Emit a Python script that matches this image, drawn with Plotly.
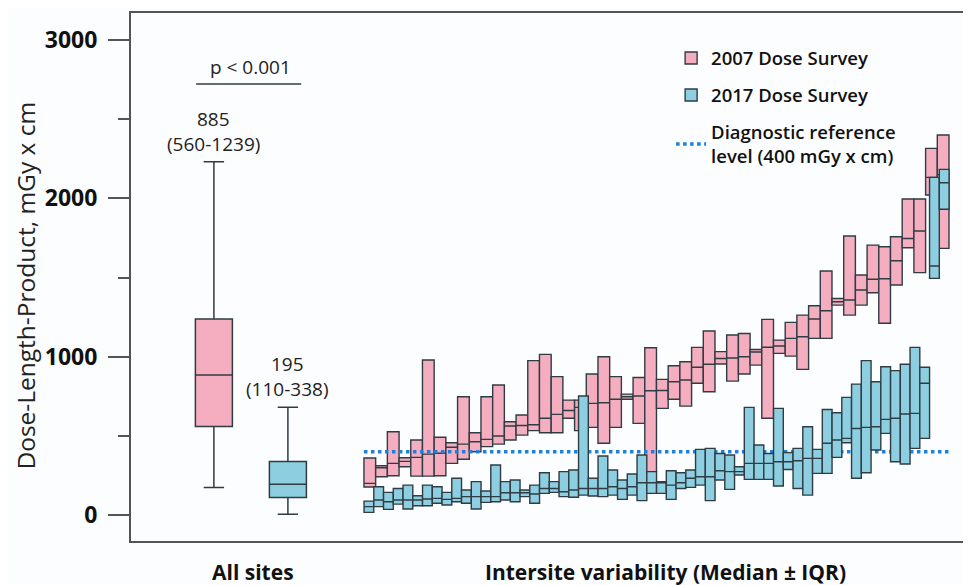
import plotly.graph_objects as go

# ---------------- data ----------------
# All sites (2007 vs 2017): whisker low, Q1, median, Q3, whisker high
all_labels = ["2007 Dose Survey", "2017 Dose Survey"]
all_low = [174, 5]
all_q1 = [560, 110]
all_median = [885, 195]
all_q3 = [1239, 338]
all_high = [2232, 681]
all_text_top = ["885", "195"]
all_text_bottom = ["(560-1239)", "(110-338)"]

# Intersite variability 2007 (50 sites): Q1, median, Q3
pink_q1 = [177, 242, 248, 305, 246, 246, 248, 326, 352, 400,
           432, 448, 474, 505, 533, 520, 520, 611, 533, 554,
           453, 554, 731, 579, 274, 674, 731, 688, 832, 779,
           954, 846, 891, 947, 611, 1021, 1004, 920, 1116, 1116,
           1326, 1263, 1326, 1404, 1211, 1453, 1688, 1531, 2021, 1684]
pink_median = [200, 299, 326, 339, 364, 385, 390, 428, 448, 463,
               478, 499, 562, 566, 570, 611, 636, 660, 680, 705,
               709, 731, 747, 752, 785, 787, 842, 853, 933, 952,
               989, 992, 1000, 1030, 1060, 1068, 1116, 1126, 1238, 1290,
               1347, 1358, 1421, 1489, 1492, 1606, 1747, 1794, 2133, 2150]
pink_q3 = [360, 311, 526, 362, 474, 979, 491, 457, 747, 520,
           747, 821, 589, 632, 975, 1015, 874, 726, 726, 891,
           1000, 874, 764, 869, 1057, 857, 943, 968, 1059, 1162,
           1032, 1137, 1147, 1046, 1236, 1105, 1217, 1263, 1322, 1541,
           1368, 1762, 1516, 1705, 1695, 1758, 1996, 1996, 2316, 2400]

# Intersite variability 2017 (60 sites): Q1, median, Q3
blue_q1 = [17, 53, 36, 69, 38, 59, 59, 74, 63, 84,
           74, 38, 80, 84, 95, 84, 116, 74, 137, 143,
           116, 112, 126, 120, 116, 126, 99, 126, 91, 137,
           137, 99, 168, 175, 189, 91, 221, 162, 253, 225,
           225, 225, 183, 288, 168, 126, 263, 263, 364, 457,
           232, 267, 411, 516, 337, 322, 421, 484, 1495, 1931]
blue_median = [53, 95, 84, 95, 95, 95, 101, 105, 99, 105,
               116, 116, 116, 116, 141, 141, 141, 133, 168, 168,
               147, 158, 168, 168, 168, 179, 168, 179, 204, 204,
               204, 189, 204, 232, 242, 242, 280, 274, 274, 326,
               326, 326, 337, 337, 343, 358, 358, 453, 474, 484,
               547, 554, 558, 604, 611, 638, 642, 832, 1573, 2099]
blue_q3 = [88, 179, 143, 168, 189, 122, 189, 179, 143, 232,
           158, 211, 152, 316, 211, 221, 158, 189, 267, 211,
           274, 284, 752, 232, 373, 284, 221, 259, 379, 274,
           211, 280, 267, 284, 415, 421, 389, 379, 305, 680,
           442, 389, 674, 394, 421, 558, 415, 667, 646, 743,
           827, 975, 842, 937, 912, 952, 1059, 933, 2133, 2183]

drl_value = 400
drl_label = "Diagnostic reference<br>level (400 mGy x cm)"
y_ticks = [0, 1000, 2000, 3000]
y_minor = [500, 1500, 2500]

# ---------------- style ----------------
PINK = "#f5aebf"
BLUE = "#8dcee0"
EDGE = "#2f3c43"
FRAME = "#4f5559"
DRL = "#1f80dc"
BG = "#fcfdfe"
FONT = "Open Sans"

fig = go.Figure()

n_pink = len(pink_q1)
n_blue = len(blue_q1)
pink_x = list(range(1, n_pink + 1))
blue_x = list(range(1, n_blue + 1))

# All-sites boxes (x axis 1)
for i, col in enumerate([PINK, BLUE]):
    fig.add_trace(go.Box(
        x=[i], q1=[all_q1[i]], median=[all_median[i]], q3=[all_q3[i]],
        lowerfence=[all_low[i]], upperfence=[all_high[i]],
        width=0.5, whiskerwidth=0.55, fillcolor=col,
        line=dict(color=EDGE, width=1.5), boxpoints=False,
        showlegend=False, hoverinfo="skip", xaxis="x", yaxis="y"))

# Intersite boxes
fig.add_trace(go.Box(
    x=pink_x, q1=pink_q1, median=pink_median, q3=pink_q3,
    lowerfence=pink_q1, upperfence=pink_q3,
    width=1, whiskerwidth=0, fillcolor=PINK,
    line=dict(color=EDGE, width=1.4), boxpoints=False,
    name="2007 Dose Survey", legendgroup="g1", showlegend=True,
    xaxis="x2", yaxis="y"))
fig.add_trace(go.Box(
    x=blue_x, q1=blue_q1, median=blue_median, q3=blue_q3,
    lowerfence=blue_q1, upperfence=blue_q3,
    width=1, whiskerwidth=0, fillcolor=BLUE,
    line=dict(color=EDGE, width=1.4), boxpoints=False,
    name="2017 Dose Survey", legendgroup="g2", showlegend=True,
    xaxis="x3", yaxis="y"))

# Diagnostic reference level
fig.add_trace(go.Scatter(
    x=[0.5, n_pink + 0.5], y=[drl_value, drl_value], mode="lines",
    line=dict(color=DRL, width=3.5, dash="dot"),
    name=drl_label, legendgroup="g3", showlegend=True, xaxis="x2", yaxis="y"))

# p-value bracket
fig.add_shape(type="line", xref="x", yref="y", x0=-0.24, x1=1.18, y0=2722, y1=2722,
              line=dict(color=EDGE, width=1.5))
fig.add_annotation(x=0.5, y=2830, xref="x", yref="y", text="p < 0.001",
                   showarrow=False, font=dict(family=FONT, size=19, color="#222"))
for i in range(2):
    fig.add_annotation(x=i, y=all_high[i] + 270, xref="x", yref="y",
                       text=all_text_top[i], showarrow=False,
                       font=dict(family=FONT, size=19, color="#222"))
    fig.add_annotation(x=i, y=all_high[i] + 112, xref="x", yref="y",
                       text=all_text_bottom[i], showarrow=False,
                       font=dict(family=FONT, size=19, color="#222"))

# axis labels
fig.add_annotation(x=0.53, y=-0.058, xref="x", yref="paper", text="<b>All sites</b>",
                   showarrow=False, yanchor="middle",
                   font=dict(family=FONT, size=21, color="#111"))
fig.add_annotation(x=0.636, y=-0.058, xref="paper", yref="paper",
                   text="<b>Intersite variability (Median ± IQR)</b>",
                   showarrow=False, yanchor="middle",
                   font=dict(family=FONT, size=21, color="#111"))
fig.add_annotation(x=-0.126, y=0.484, xref="paper", yref="paper",
                   text="Dose-Length-Product, mGy x cm", textangle=-90,
                   showarrow=False, xanchor="center", yanchor="middle",
                   borderpad=0,
                   font=dict(family=FONT, size=24.5, color="#222"))

fig.update_layout(
    width=963, height=577,
    margin=dict(l=123, r=0, t=5, b=44),
    paper_bgcolor=BG, plot_bgcolor=BG,
    boxmode="overlay",
    showlegend=True,
    legend=dict(x=0.643, y=0.95, xanchor="left", yanchor="top",
                bgcolor="rgba(0,0,0,0)",
                font=dict(family=FONT, size=18.5, color="#111", weight=600),
                traceorder="grouped", tracegroupgap=10),
    xaxis=dict(range=[-1.12, 10.23], showline=True, mirror=True, linecolor=FRAME,
               linewidth=2, showticklabels=False, ticks="", showgrid=False, zeroline=False),
    xaxis2=dict(range=[-19.41, 52.38], overlaying="x", visible=False),
    xaxis3=dict(range=[-23.4, 62.75], overlaying="x", visible=False),
    yaxis=dict(range=[-164, 3171], tickvals=y_ticks, ticktext=[f"<b>{v}</b>" for v in y_ticks],
               ticks="outside", ticklen=21, tickwidth=1.5, tickcolor=FRAME,
               ticklabelstandoff=6,
               showline=True, linecolor=FRAME, linewidth=2, showgrid=False, zeroline=False,
               tickfont=dict(family=FONT, size=23, color="#111"),
               minor=dict(tickvals=y_minor, ticks="outside", ticklen=11, tickwidth=1.5,
                          tickcolor=FRAME, showgrid=False)),
)

fig.write_html("out.html")
